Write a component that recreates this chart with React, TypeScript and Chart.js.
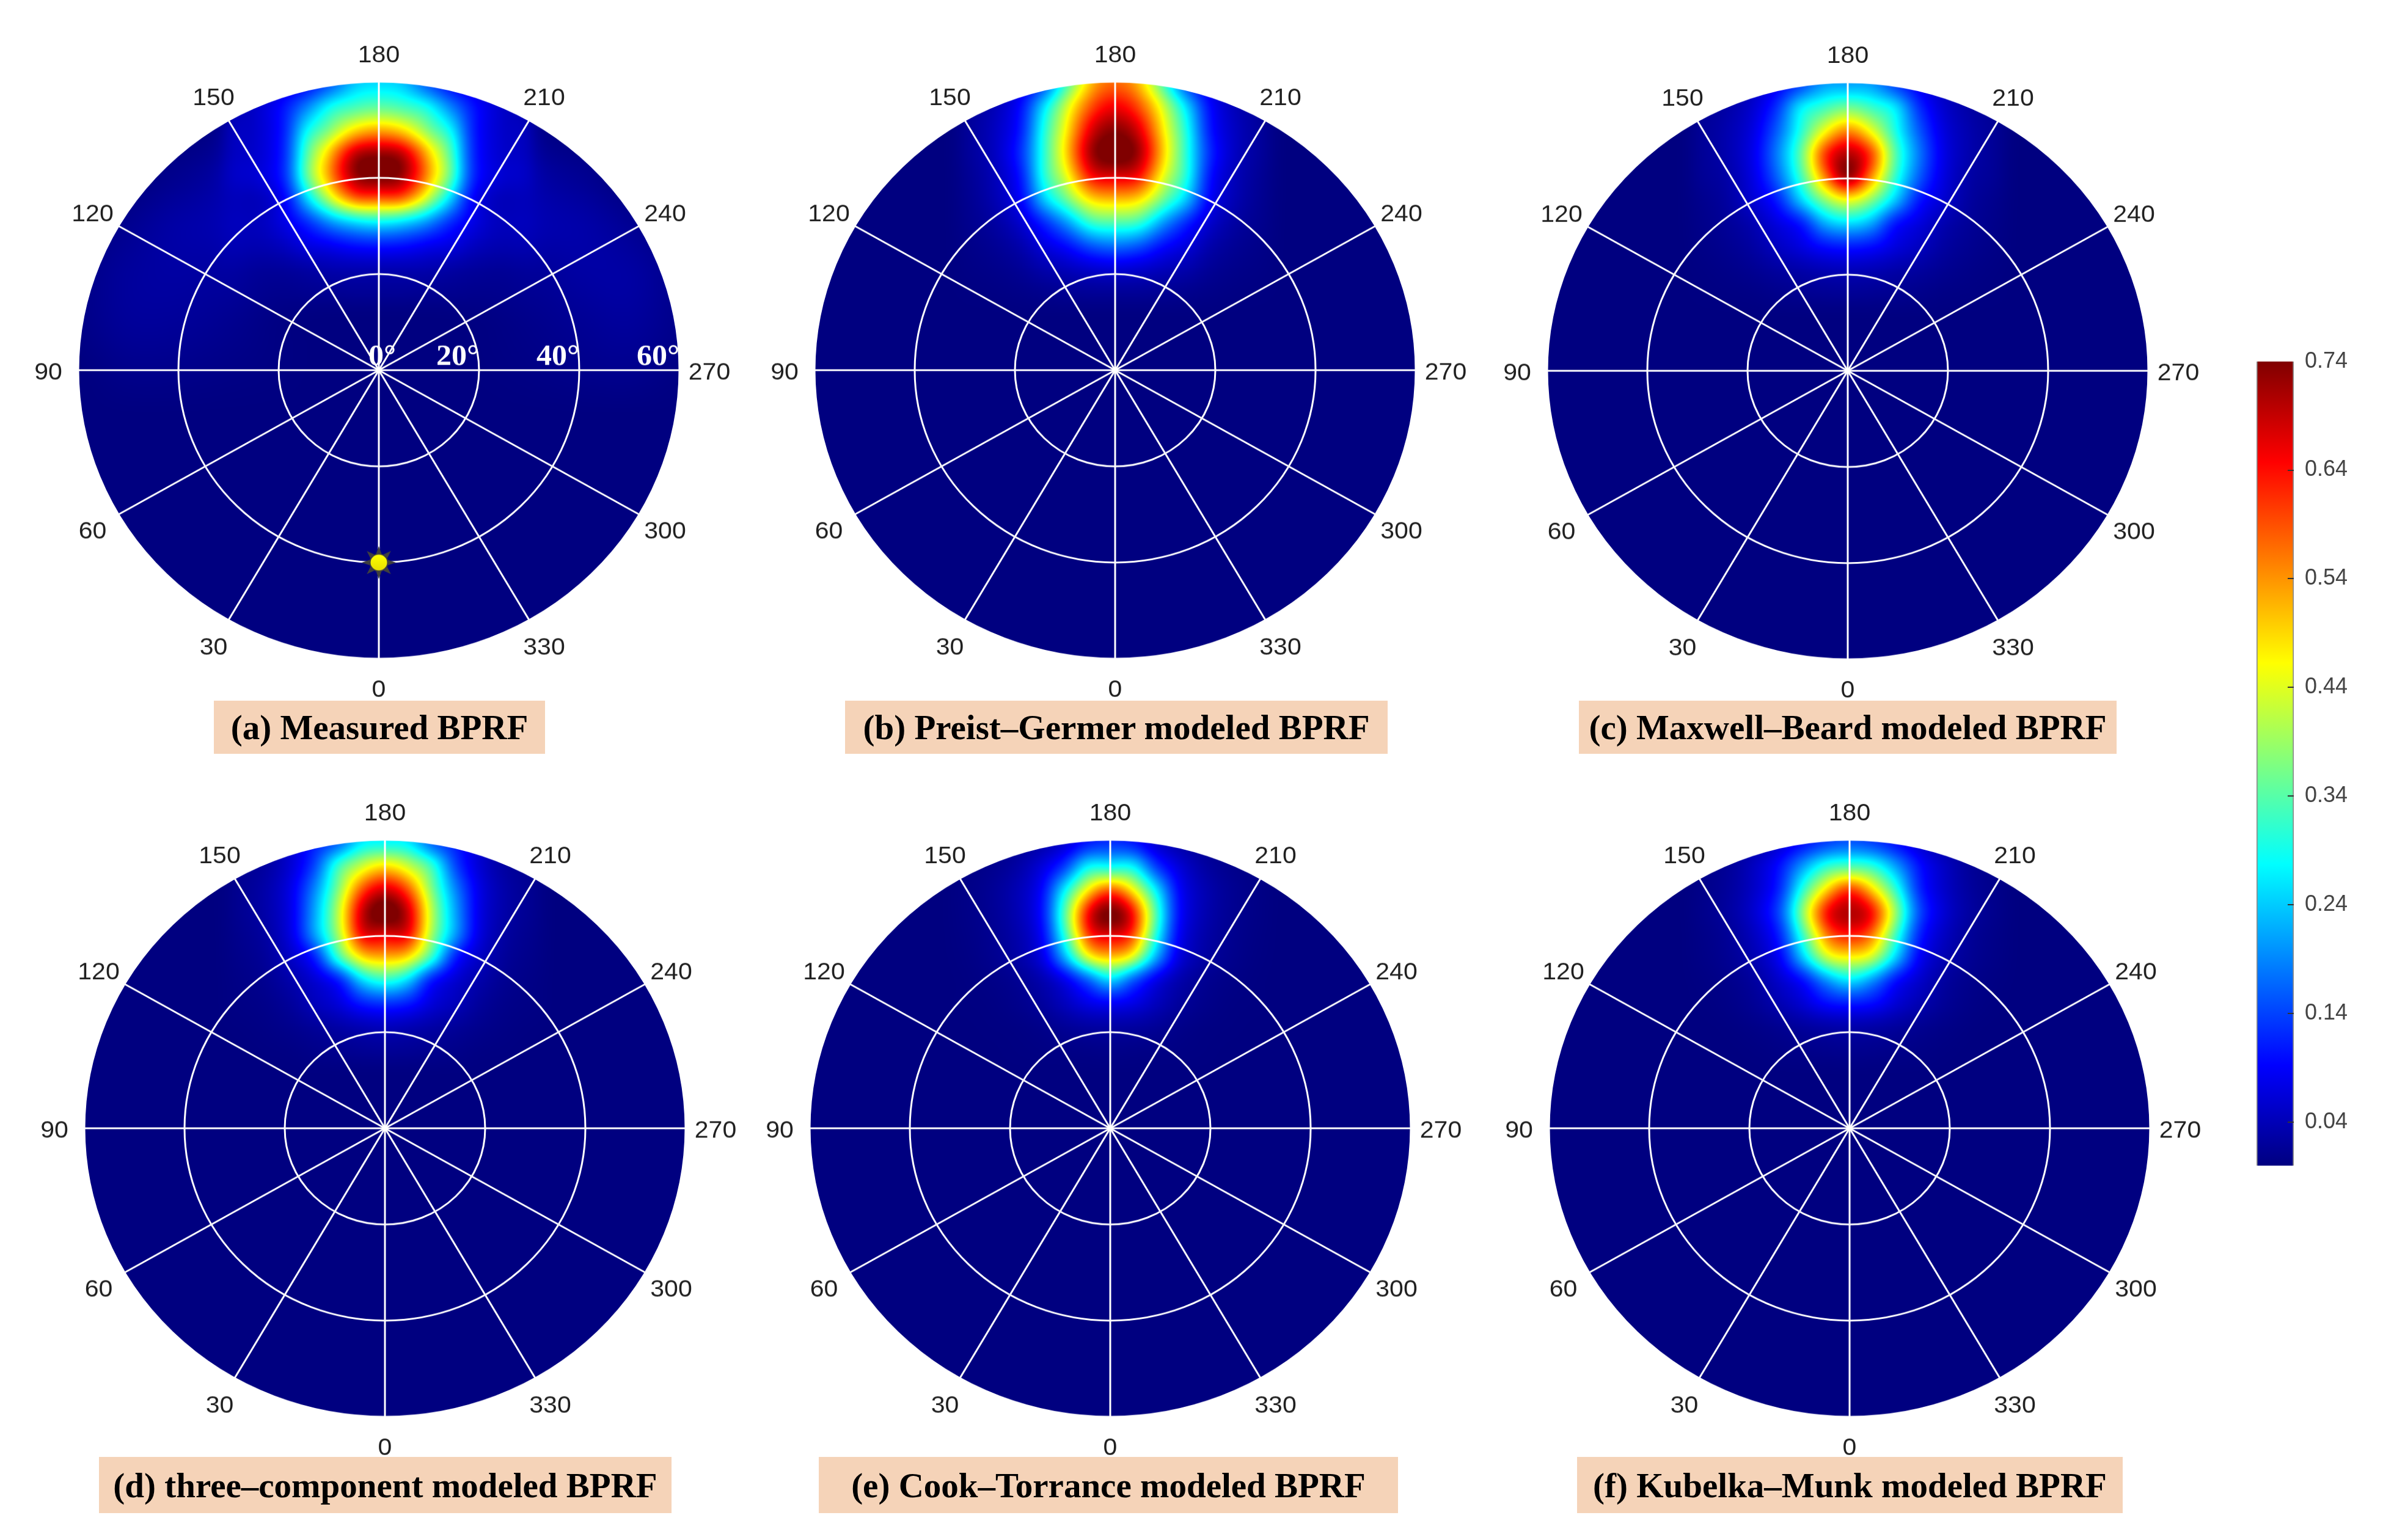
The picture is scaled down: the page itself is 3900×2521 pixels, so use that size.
import React, { useEffect, useRef } from "react";
import { Chart, registerables } from "chart.js";

Chart.register(...registerables);

// ---------- data ----------
const AZIMUTH_LABELS = ["180", "210", "240", "270", "300", "330", "0", "30", "60", "90", "120", "150"];
const ZENITH_TICKS = [0, 20, 40, 60];
const SUN_AZIMUTH = "0";
const SUN_ZENITH = 40;
const COLORBAR_TICKS = [0.04, 0.14, 0.24, 0.34, 0.44, 0.54, 0.64, 0.74];
const BPRF_MIN = 0;
const BPRF_MAX = 0.74;

// BPRF on a ground-projected grid: columns x = -30..30 deg (step 5), rows y = 60..15 deg (step 5), y axis toward azimuth 180
const GRID_X_START = -30;
const GRID_Y_START = 60;
const GRID_STEP = 5;

const MEASURED = [
  [0.02, 0.04, 0.06, 0.09, 0.15, 0.23, 0.25, 0.23, 0.15, 0.09, 0.06, 0.04, 0.02],
  [0.025, 0.05, 0.09, 0.17, 0.27, 0.32, 0.34, 0.32, 0.27, 0.17, 0.09, 0.05, 0.025],
  [0.03, 0.05, 0.095, 0.25, 0.37, 0.48, 0.52, 0.48, 0.37, 0.25, 0.095, 0.05, 0.03],
  [0.025, 0.045, 0.095, 0.3, 0.5, 0.68, 0.72, 0.68, 0.5, 0.3, 0.095, 0.045, 0.025],
  [0.02, 0.04, 0.09, 0.3, 0.52, 0.7, 0.74, 0.7, 0.52, 0.3, 0.09, 0.04, 0.02],
  [0.01, 0.02, 0.06, 0.2, 0.38, 0.52, 0.54, 0.52, 0.38, 0.2, 0.06, 0.02, 0.01],
  [0.01, 0.02, 0.05, 0.1, 0.17, 0.22, 0.24, 0.22, 0.17, 0.1, 0.05, 0.02, 0.01],
  [0.008, 0.015, 0.03, 0.055, 0.07, 0.085, 0.09, 0.085, 0.07, 0.055, 0.03, 0.015, 0.008],
  [0.004, 0.006, 0.012, 0.02, 0.028, 0.03, 0.03, 0.03, 0.028, 0.02, 0.012, 0.006, 0.004],
  [0.002, 0.003, 0.005, 0.008, 0.01, 0.012, 0.012, 0.012, 0.01, 0.008, 0.005, 0.003, 0.002],
];
// faint side lobes of the measured panel: columns x = -60..60 (step 10), rows y = 60..0 (step 10)
const LOBES_X_START = -60;
const LOBES_Y_START = 60;
const LOBES_STEP = 10;
const MEASURED_LOBES = [
  [0, 0, 0, 0, 0, 0, 0, 0, 0, 0, 0, 0, 0],
  [0, 0, 0, 0.005, 0, 0, 0, 0, 0, 0.005, 0, 0, 0],
  [0, 0, 0.012, 0.025, 0.008, 0, 0, 0, 0.008, 0.025, 0.015, 0, 0],
  [0, 0.012, 0.028, 0.032, 0.012, 0, 0, 0, 0.012, 0.032, 0.03, 0.015, 0],
  [0.005, 0.02, 0.025, 0.02, 0.005, 0, 0, 0, 0.005, 0.015, 0.025, 0.025, 0.008],
  [0.005, 0.018, 0.018, 0.012, 0.003, 0, 0, 0, 0.002, 0.008, 0.015, 0.02, 0.008],
  [0, 0.008, 0.008, 0.005, 0.002, 0, 0, 0, 0.001, 0.004, 0.008, 0.01, 0.003],
];
const PREIST_GERMER = [
  [0.015, 0.03, 0.06, 0.13, 0.31, 0.5, 0.57, 0.5, 0.31, 0.13, 0.06, 0.03, 0.015],
  [0.015, 0.035, 0.08, 0.22, 0.41, 0.58, 0.65, 0.58, 0.41, 0.22, 0.08, 0.035, 0.015],
  [0.015, 0.04, 0.09, 0.26, 0.46, 0.66, 0.73, 0.66, 0.46, 0.26, 0.09, 0.04, 0.015],
  [0.015, 0.04, 0.1, 0.27, 0.48, 0.7, 0.76, 0.7, 0.48, 0.27, 0.1, 0.04, 0.015],
  [0.012, 0.035, 0.085, 0.26, 0.43, 0.62, 0.66, 0.62, 0.43, 0.26, 0.085, 0.035, 0.012],
  [0.01, 0.03, 0.07, 0.2, 0.33, 0.46, 0.49, 0.46, 0.33, 0.2, 0.07, 0.03, 0.01],
  [0.008, 0.02, 0.045, 0.1, 0.18, 0.285, 0.31, 0.285, 0.18, 0.1, 0.045, 0.02, 0.008],
  [0.005, 0.012, 0.025, 0.055, 0.085, 0.13, 0.15, 0.13, 0.085, 0.055, 0.025, 0.012, 0.005],
  [0.003, 0.006, 0.012, 0.025, 0.035, 0.045, 0.05, 0.045, 0.035, 0.025, 0.012, 0.006, 0.003],
  [0.001, 0.002, 0.004, 0.007, 0.01, 0.012, 0.012, 0.012, 0.01, 0.007, 0.004, 0.002, 0.001],
];
const MAXWELL_BEARD = [
  [0.01, 0.02, 0.04, 0.075, 0.13, 0.2, 0.21, 0.2, 0.13, 0.075, 0.04, 0.02, 0.01],
  [0.012, 0.025, 0.05, 0.11, 0.24, 0.31, 0.35, 0.31, 0.24, 0.11, 0.05, 0.025, 0.012],
  [0.013, 0.03, 0.06, 0.14, 0.28, 0.44, 0.54, 0.44, 0.28, 0.14, 0.06, 0.03, 0.013],
  [0.013, 0.03, 0.065, 0.16, 0.32, 0.58, 0.7, 0.58, 0.32, 0.16, 0.065, 0.03, 0.013],
  [0.012, 0.025, 0.06, 0.14, 0.29, 0.52, 0.7, 0.52, 0.29, 0.14, 0.06, 0.025, 0.012],
  [0.008, 0.02, 0.05, 0.095, 0.21, 0.35, 0.43, 0.35, 0.21, 0.095, 0.05, 0.02, 0.008],
  [0.006, 0.015, 0.03, 0.06, 0.095, 0.19, 0.23, 0.19, 0.095, 0.06, 0.03, 0.015, 0.006],
  [0.004, 0.01, 0.02, 0.04, 0.06, 0.085, 0.095, 0.085, 0.06, 0.04, 0.02, 0.01, 0.004],
  [0.002, 0.005, 0.01, 0.018, 0.025, 0.032, 0.035, 0.032, 0.025, 0.018, 0.01, 0.005, 0.002],
  [0.001, 0.002, 0.003, 0.006, 0.009, 0.011, 0.012, 0.011, 0.009, 0.006, 0.003, 0.002, 0.001],
];
const THREE_COMPONENT = [
  [0.01, 0.02, 0.05, 0.1, 0.15, 0.25, 0.27, 0.25, 0.15, 0.1, 0.05, 0.02, 0.01],
  [0.01, 0.02, 0.05, 0.12, 0.28, 0.4, 0.46, 0.4, 0.28, 0.12, 0.05, 0.02, 0.01],
  [0.01, 0.025, 0.06, 0.16, 0.34, 0.56, 0.66, 0.56, 0.34, 0.16, 0.06, 0.025, 0.01],
  [0.01, 0.025, 0.06, 0.18, 0.38, 0.66, 0.76, 0.66, 0.38, 0.18, 0.06, 0.025, 0.01],
  [0.008, 0.02, 0.055, 0.17, 0.36, 0.62, 0.66, 0.62, 0.36, 0.17, 0.055, 0.02, 0.008],
  [0.006, 0.015, 0.04, 0.09, 0.26, 0.44, 0.49, 0.44, 0.26, 0.09, 0.04, 0.015, 0.006],
  [0.004, 0.01, 0.025, 0.05, 0.09, 0.21, 0.27, 0.21, 0.09, 0.05, 0.025, 0.01, 0.004],
  [0.003, 0.006, 0.015, 0.035, 0.055, 0.09, 0.105, 0.09, 0.055, 0.035, 0.015, 0.006, 0.003],
  [0.001, 0.003, 0.007, 0.014, 0.022, 0.03, 0.035, 0.03, 0.022, 0.014, 0.007, 0.003, 0.001],
  [0, 0.001, 0.002, 0.005, 0.008, 0.011, 0.012, 0.011, 0.008, 0.005, 0.002, 0.001, 0],
];
const COOK_TORRANCE = [
  [0.002, 0.005, 0.012, 0.025, 0.05, 0.1, 0.12, 0.1, 0.05, 0.025, 0.012, 0.005, 0.002],
  [0.003, 0.008, 0.02, 0.05, 0.11, 0.24, 0.26, 0.24, 0.11, 0.05, 0.02, 0.008, 0.003],
  [0.004, 0.012, 0.03, 0.07, 0.22, 0.43, 0.55, 0.43, 0.22, 0.07, 0.03, 0.012, 0.004],
  [0.004, 0.012, 0.03, 0.075, 0.28, 0.6, 0.74, 0.6, 0.28, 0.075, 0.03, 0.012, 0.004],
  [0.003, 0.01, 0.025, 0.065, 0.25, 0.56, 0.66, 0.56, 0.25, 0.065, 0.025, 0.01, 0.003],
  [0.002, 0.008, 0.02, 0.05, 0.17, 0.38, 0.47, 0.38, 0.17, 0.05, 0.02, 0.008, 0.002],
  [0.001, 0.004, 0.01, 0.025, 0.06, 0.13, 0.21, 0.13, 0.06, 0.025, 0.01, 0.004, 0.001],
  [0.001, 0.002, 0.006, 0.015, 0.035, 0.06, 0.07, 0.06, 0.035, 0.015, 0.006, 0.002, 0.001],
  [0, 0.001, 0.002, 0.005, 0.012, 0.018, 0.02, 0.018, 0.012, 0.005, 0.002, 0.001, 0],
  [0, 0, 0.001, 0.002, 0.003, 0.004, 0.005, 0.004, 0.003, 0.002, 0.001, 0, 0],
];
const KUBELKA_MUNK = [
  [0.004, 0.01, 0.025, 0.05, 0.09, 0.13, 0.15, 0.13, 0.09, 0.05, 0.025, 0.01, 0.004],
  [0.006, 0.015, 0.04, 0.085, 0.18, 0.28, 0.31, 0.28, 0.18, 0.085, 0.04, 0.015, 0.006],
  [0.006, 0.018, 0.045, 0.1, 0.27, 0.46, 0.58, 0.46, 0.27, 0.1, 0.045, 0.018, 0.006],
  [0.007, 0.02, 0.05, 0.12, 0.34, 0.61, 0.7, 0.61, 0.34, 0.12, 0.05, 0.02, 0.007],
  [0.005, 0.015, 0.04, 0.095, 0.28, 0.53, 0.62, 0.53, 0.28, 0.095, 0.04, 0.015, 0.005],
  [0.004, 0.012, 0.03, 0.07, 0.2, 0.38, 0.44, 0.38, 0.2, 0.07, 0.03, 0.012, 0.004],
  [0.002, 0.007, 0.018, 0.045, 0.085, 0.17, 0.23, 0.17, 0.085, 0.045, 0.018, 0.007, 0.002],
  [0.001, 0.004, 0.012, 0.028, 0.05, 0.08, 0.09, 0.08, 0.05, 0.028, 0.012, 0.004, 0.001],
  [0, 0.001, 0.004, 0.009, 0.016, 0.022, 0.025, 0.022, 0.016, 0.009, 0.004, 0.001, 0],
  [0, 0, 0.001, 0.003, 0.005, 0.007, 0.008, 0.007, 0.005, 0.003, 0.001, 0, 0],
];

// ---------- layout ----------
const CANVAS_W = 1200;
const CANVAS_H = 1200;
const RADIUS = 492;
const LABEL_RADIUS = 541;
const LABEL_SHIFT = 5;
const SQUASH_Y = 0.96;
const LABEL_FONT = 41;
const LOG_FLOOR = 0.003;
const JET_STOPS: [number, string][] = [
  [0, "#000080"],
  [0.125, "#0000ff"],
  [0.375, "#00ffff"],
  [0.625, "#ffff00"],
  [0.875, "#ff0000"],
  [1, "#800000"],
];

const PANELS = [
  { grid: MEASURED, lobes: MEASURED_LOBES, annotated: true, cx: 620, cy: 606, title: "(a) Measured BPRF", box: [350, 1147, 542, 87] },
  { grid: PREIST_GERMER, annotated: false, cx: 1825, cy: 606, title: "(b) Preist\u2013Germer modeled BPRF", box: [1383, 1147, 888, 87] },
  { grid: MAXWELL_BEARD, annotated: false, cx: 3024, cy: 607, title: "(c) Maxwell\u2013Beard modeled BPRF", box: [2584, 1147, 880, 87] },
  { grid: THREE_COMPONENT, annotated: false, cx: 630, cy: 1847, title: "(d) three\u2013component modeled BPRF", box: [162, 2385, 937, 92] },
  { grid: COOK_TORRANCE, annotated: false, cx: 1817, cy: 1847, title: "(e) Cook\u2013Torrance modeled BPRF", box: [1340, 2385, 948, 92] },
  { grid: KUBELKA_MUNK, annotated: false, cx: 3027, cy: 1847, title: "(f) Kubelka\u2013Munk modeled BPRF", box: [2581, 2385, 893, 92] },
];

// ---------- helpers ----------
const clamp01 = (v: number) => (v < 0 ? 0 : v > 1 ? 1 : v);

function jet(t: number): [number, number, number] {
  const r = clamp01(Math.min(4 * t - 1.5, -4 * t + 4.5));
  const g = clamp01(Math.min(4 * t - 0.5, -4 * t + 3.5));
  const b = clamp01(Math.min(4 * t + 0.5, -4 * t + 2.5));
  return [r * 255, g * 255, b * 255];
}

function crWeights(t: number): number[] {
  const t2 = t * t;
  const t3 = t2 * t;
  return [(-t3 + 2 * t2 - t) / 2, (3 * t3 - 5 * t2 + 2) / 2, (-3 * t3 + 4 * t2 + t) / 2, (t3 - t2) / 2];
}

// Catmull-Rom resampling of a table; `outside` is what lies beyond its left, right and lower edges.
function sample(grid: number[][], xStart: number, yStart: number, step: number, x: number, y: number, outside: number): number {
  const rows = grid.length;
  const cols = grid[0].length;
  const fx = (x - xStart) / step;
  const fy = (yStart - y) / step;
  const ix = Math.floor(fx);
  const iy = Math.floor(fy);
  if (ix < -2 || ix > cols || iy > rows) return outside;
  const wx = crWeights(fx - ix);
  const wy = crWeights(fy - iy);
  let sum = 0;
  for (let j = 0; j < 4; j++) {
    let r = iy - 1 + j;
    if (r < 0) r = 0;
    const row = r < rows ? grid[r] : null;
    for (let i = 0; i < 4; i++) {
      const c = ix - 1 + i;
      const val = row && c >= 0 && c < cols ? row[c] : outside;
      sum += wx[i] * wy[j] * val;
    }
  }
  return sum;
}

function makeSun(): HTMLCanvasElement {
  const c = document.createElement("canvas");
  c.width = 64;
  c.height = 64;
  const g = c.getContext("2d")!;
  g.translate(32, 32);
  for (let k = 0; k < 8; k++) {
    g.save();
    g.rotate((k * Math.PI) / 4);
    g.fillStyle = "#3f3f3f";
    g.beginPath();
    g.moveTo(-4.5, -15);
    g.lineTo(0, -28);
    g.lineTo(4.5, -15);
    g.closePath();
    g.fill();
    g.restore();
  }
  const grad = g.createLinearGradient(0, -14, 0, 14);
  grad.addColorStop(0, "#ffff00");
  grad.addColorStop(1, "#e8e000");
  g.fillStyle = grad;
  g.strokeStyle = "#404040";
  g.lineWidth = 2;
  g.beginPath();
  g.arc(0, 0, 14.5, 0, Math.PI * 2);
  g.fill();
  g.stroke();
  return c;
}

// ---------- one polar panel ----------
function PolarPanel({ panel }: { panel: (typeof PANELS)[number] }) {
  const ref = useRef<HTMLCanvasElement>(null);
  useEffect(() => {
    const heatPlugin = {
      id: "heat",
      afterLayout(chart: any) {
        const s = chart.scales.r;
        s.xCenter = CANVAS_W / 2;
        s.yCenter = CANVAS_H / 2;
        s.drawingArea = RADIUS;
        (s._pointLabelItems || []).forEach((it: any, i: number) => {
          const p = s.getPointPosition(i, LABEL_RADIUS, 0);
          it.x = p.x;
          it.y = p.y + LABEL_SHIFT - (LABEL_FONT * 1.2) / 2;
          it.textAlign = "center";
          it.visible = true;
        });
      },
      beforeDraw(chart: any) {
        const s = chart.scales.r;
        const R = s.drawingArea;
        const perPx = s.getValueForDistanceFromCenter(R) / R;
        const size = Math.ceil(R) * 2 + 4;
        const half = size / 2;
        const off = document.createElement("canvas");
        off.width = size;
        off.height = size;
        const g = off.getContext("2d")!;
        const img = g.createImageData(size, size);
        const d = img.data;
        // the table is resampled in log space so that bell-shaped peaks keep round contours
        const logGrid = panel.grid.map((row: number[]) => row.map((v) => Math.log(v + LOG_FLOOR)));
        const logOutside = Math.log(LOG_FLOOR);
        const lobes = (panel as any).lobes;
        for (let py = 0; py < size; py++) {
          const dy = py + 0.5 - half;
          for (let px = 0; px < size; px++) {
            const dx = px + 0.5 - half;
            const dist = Math.hypot(dx, dy);
            const alpha = clamp01(R + 0.5 - dist);
            if (alpha <= 0) continue;
            const xd = dx * perPx;
            const yd = -dy * perPx;
            let v = Math.exp(sample(logGrid, GRID_X_START, GRID_Y_START, GRID_STEP, xd, yd, logOutside)) - LOG_FLOOR;
            if (lobes) v += Math.max(0, sample(lobes, LOBES_X_START, LOBES_Y_START, LOBES_STEP, xd, yd, 0));
            const [r, gg, b] = jet(clamp01((v - BPRF_MIN) / (BPRF_MAX - BPRF_MIN)));
            const o = (py * size + px) * 4;
            d[o] = r;
            d[o + 1] = gg;
            d[o + 2] = b;
            d[o + 3] = alpha * 255;
          }
        }
        g.putImageData(img, 0, 0);
        chart.ctx.drawImage(off, s.xCenter - half, s.yCenter - half);
      },
      afterDraw(chart: any) {
        if (!panel.annotated) return;
        const s = chart.scales.r;
        const ctx = chart.ctx;
        ctx.save();
        ctx.fillStyle = "#ffffff";
        ctx.font = 'bold 50px "Liberation Serif"';
        ctx.textAlign = "right";
        ctx.textBaseline = "alphabetic";
        ZENITH_TICKS.forEach((z) => {
          const x = s.xCenter + s.getDistanceFromCenterForValue(z) + (z === 0 ? 28 : 0);
          ctx.fillText(`${z}\u00b0`, x, s.yCenter - 9);
        });
        ctx.restore();
      },
    };
    const sunData = AZIMUTH_LABELS.map((a) => (panel.annotated && a === SUN_AZIMUTH ? SUN_ZENITH : null));
    const chart = new Chart(ref.current!, {
      type: "radar",
      data: {
        labels: AZIMUTH_LABELS,
        datasets: [
          {
            data: sunData,
            pointStyle: panel.annotated ? makeSun() : "circle",
            pointRadius: 14,
            showLine: false,
            borderWidth: 0,
            backgroundColor: "transparent",
            borderColor: "transparent",
          },
        ],
      },
      options: {
        animation: false,
        responsive: false,
        devicePixelRatio: 1,
        plugins: { legend: { display: false }, tooltip: { enabled: false } },
        scales: {
          r: {
            min: 0,
            max: 60,
            ticks: { display: false, stepSize: 20 },
            grid: { circular: true, color: "#ffffff", lineWidth: 3 },
            angleLines: { display: true, color: "#ffffff", lineWidth: 3 },
            pointLabels: {
              display: true,
              color: "#1f1f1f",
              font: { family: '"Liberation Sans"', size: LABEL_FONT, lineHeight: 1.2 },
            },
          },
        },
      } as any,
      plugins: [heatPlugin],
    } as any);
    return () => chart.destroy();
  }, [panel]);
  return (
    <div
      style={{
        position: "absolute",
        left: panel.cx - CANVAS_W / 2,
        top: panel.cy - CANVAS_H / 2,
        width: CANVAS_W,
        height: CANVAS_H,
        transform: `scaleY(${SQUASH_Y})`,
        transformOrigin: "center center",
      }}
    >
      <canvas ref={ref} width={CANVAS_W} height={CANVAS_H} style={{ display: "block" }} />
    </div>
  );
}

// ---------- colour bar ----------
function ColorBar() {
  const ref = useRef<HTMLCanvasElement>(null);
  useEffect(() => {
    const tickPlugin = {
      id: "innerTicks",
      afterDraw(chart: any) {
        const { ctx, chartArea } = chart;
        const y = chart.scales.y;
        ctx.save();
        ctx.strokeStyle = "#333333";
        ctx.lineWidth = 2;
        COLORBAR_TICKS.filter((t) => t < BPRF_MAX).forEach((t) => {
          const p = Math.round(y.getPixelForValue(t));
          ctx.beginPath();
          ctx.moveTo(chartArea.right - 10, p);
          ctx.lineTo(chartArea.right, p);
          ctx.stroke();
        });
        ctx.restore();
      },
    };
    const chart = new Chart(ref.current!, {
      type: "bar",
      data: {
        labels: ["BPRF"],
        datasets: [
          {
            data: [[BPRF_MIN, BPRF_MAX]],
            barPercentage: 1,
            categoryPercentage: 1,
            borderColor: "#8a8a8a",
            borderWidth: { left: 2, right: 2, top: 0, bottom: 0 },
            borderSkipped: false,
            backgroundColor: (c: any) => {
              const a = c.chart.chartArea;
              if (!a) return JET_STOPS[0][1];
              const grad = c.chart.ctx.createLinearGradient(0, a.bottom, 0, a.top);
              JET_STOPS.forEach(([p, col]) => grad.addColorStop(p, col));
              return grad;
            },
          },
        ],
      },
      options: {
        animation: false,
        responsive: false,
        devicePixelRatio: 1,
        layout: { padding: { left: 13, top: 0, bottom: 0, right: 0 } },
        plugins: { legend: { display: false }, tooltip: { enabled: false } },
        scales: {
          x: { display: false },
          y: {
            position: "right",
            min: BPRF_MIN,
            max: BPRF_MAX,
            grid: { display: false, drawTicks: false },
            border: { display: false },
            afterBuildTicks: (axis: any) => {
              axis.ticks = COLORBAR_TICKS.map((value) => ({ value }));
            },
            afterFit: (axis: any) => {
              axis.width = 116;
            },
            ticks: {
              autoSkip: false,
              padding: 18,
              color: "#444444",
              font: { family: '"Liberation Sans"', size: 36 },
              callback: (v: any) => Number(v).toFixed(2),
            },
          },
        },
      } as any,
      plugins: [tickPlugin],
    } as any);
    return () => chart.destroy();
  }, []);
  return (
    <div style={{ position: "absolute", left: 3680, top: 552 }}>
      <canvas ref={ref} width={190} height={1396} style={{ display: "block" }} />
    </div>
  );
}

export default function App() {
  return (
    <div style={{ position: "absolute", left: 0, top: 0, width: 3900, height: 2521, background: "#ffffff", overflow: "hidden" }}>
      {PANELS.map((p) => (
        <PolarPanel key={p.title} panel={p} />
      ))}
      {PANELS.map((p) => (
        <div
          key={`t${p.title}`}
          style={{
            position: "absolute",
            left: p.box[0],
            top: p.box[1],
            width: p.box[2],
            height: p.box[3],
            background: "#f5d3b8",
            display: "flex",
            alignItems: "center",
            justifyContent: "center",
            fontFamily: '"Liberation Serif"',
            fontWeight: 700,
            fontSize: 57,
            color: "#000000",
            whiteSpace: "nowrap",
          }}
        >
          {p.title}
        </div>
      ))}
      <ColorBar />
    </div>
  );
}
